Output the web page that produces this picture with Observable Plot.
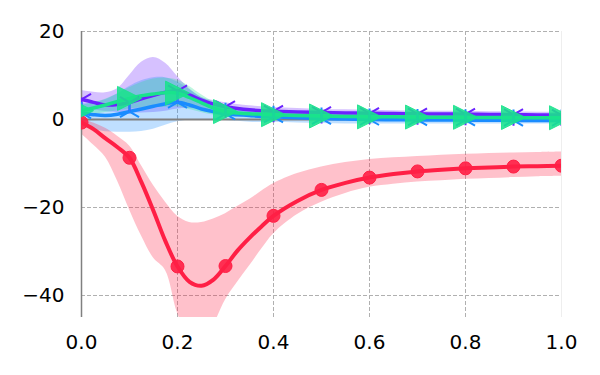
<!DOCTYPE html>
<html>
<head>
<meta charset="utf-8">
<script src="https://cdn.jsdelivr.net/npm/d3@7"></script>
<script src="https://cdn.jsdelivr.net/npm/@observablehq/plot@0.6"></script>
<style>
  html, body { margin: 0; padding: 0; background: #fff; }
  #chart { width: 600px; height: 375px; }
</style>
</head>
<body>
<div id="chart"></div>
<script>
// ---- data ----
const xs = [0,0.025,0.05,0.075,0.1,0.125,0.15,0.175,0.2,0.225,0.25,0.275,0.3,0.325,0.35,0.375,0.4,0.45,0.5,0.55,0.6,0.65,0.7,0.75,0.8,0.85,0.9,0.95,1.0];

const redMean = [-0.7,-2.2,-4.3,-6.3,-8.7,-14.3,-20.8,-27.7,-33.4,-36.9,-37.8,-36.4,-33.3,-29.8,-26.9,-24.3,-21.9,-18.5,-16.0,-14.4,-13.2,-12.4,-11.8,-11.4,-11.1,-10.9,-10.7,-10.6,-10.5];
const redHi   = [0.0,-0.8,-2.0,-3.8,-6.0,-10.5,-15.0,-18.8,-22.0,-23.4,-23.4,-22.6,-21.4,-19.8,-18.2,-16.3,-14.6,-12.3,-10.8,-9.8,-9.1,-8.7,-8.4,-8.1,-7.9,-7.7,-7.6,-7.5,-7.4];
const redLo   = [-3.3,-5.8,-8.6,-14.0,-20.5,-26.5,-31.5,-34.3,-44.0,-50,-53,-47,-41.0,-37.0,-33.3,-29.5,-26.0,-21.6,-18.8,-16.8,-15.4,-14.7,-14.2,-13.9,-13.6,-13.4,-13.2,-13.0,-12.9];

const purMean = [4.6,3.9,3.3,3.4,3.9,4.7,5.5,6.2,6.5,5.6,4.4,3.5,2.9,2.5,2.2,2.0,1.9,1.7,1.6,1.5,1.4,1.35,1.3,1.25,1.2,1.15,1.1,1.05,1.0];
const purHi   = [6.6,6.2,6.1,7.0,10.0,13.0,14.1,12.8,9.8,7.0,5.0,4.3,3.8,3.4,3.1,2.9,2.7,2.5,2.3,2.2,2.1,2.0,1.9,1.85,1.8,1.75,1.7,1.65,1.6];
const purLo   = [2.8,2.2,1.8,1.6,1.5,1.5,1.6,1.9,2.4,2.5,2.3,2.0,1.7,1.5,1.3,1.2,1.1,1.0,0.95,0.9,0.85,0.8,0.8,0.75,0.75,0.7,0.7,0.65,0.6];

const bluMean = [1.5,1.1,0.9,1.2,1.8,2.4,3.0,3.6,3.9,3.3,2.4,1.8,1.3,1.1,0.9,0.7,0.6,0.4,0.2,0.1,0.0,-0.05,-0.1,-0.1,-0.15,-0.15,-0.2,-0.2,-0.2];
const bluHi   = [3.5,3.8,4.5,5.8,7.5,8.8,9.5,9.5,8.5,6.8,5.0,3.8,2.8,2.2,1.8,1.6,1.5,1.2,1.0,0.9,0.8,0.7,0.7,0.6,0.6,0.55,0.5,0.5,0.5];
const bluLo   = [-1.7,-2.3,-2.8,-2.9,-2.9,-2.7,-2.2,-1.3,-0.5,-0.1,0.0,-0.1,-0.2,-0.4,-0.6,-0.7,-0.7,-0.8,-0.9,-1.0,-1.0,-1.0,-1.0,-1.0,-1.0,-1.0,-1.0,-1.0,-1.0];

const grnMean = [2.0,2.6,3.3,4.1,4.8,5.4,5.8,6.1,6.0,5.0,3.8,2.6,1.8,1.5,1.3,1.2,1.1,0.9,0.8,0.7,0.6,0.6,0.55,0.5,0.5,0.45,0.45,0.4,0.4];
const grnHi   = [3.2,3.8,4.6,5.8,7.2,8.4,9.2,9.4,9.0,7.5,5.6,4.0,2.9,2.4,2.1,1.9,1.8,1.5,1.3,1.2,1.1,1.05,1.0,0.95,0.9,0.9,0.85,0.85,0.8];
const grnLo   = [0.8,1.2,1.6,2.0,2.4,2.6,2.7,2.8,2.9,2.3,1.6,1.0,0.6,0.5,0.4,0.3,0.3,0.2,0.1,0.1,0.0,0.0,0.0,0.0,0.0,0.0,0.0,0.0,0.0];

const markerXs = [0,0.1,0.2,0.3,0.4,0.5,0.6,0.7,0.8,0.9,1.0];
const xTicks = [0,0.2,0.4,0.6,0.8,1.0];
const yTicks = [-40,-20,0,20];
const yGrid = [-40,-20,20];
const xGrid = [0.2,0.4,0.6,0.8];

// ---- build tables ----
const series = [
  {name: "purple", mean: purMean, hi: purHi, lo: purLo, color: "#6b22ff", band: "#6b22ff"},
  {name: "blue",   mean: bluMean, hi: bluHi, lo: bluLo, color: "#1a8cff", band: "#1a8cff"},
  {name: "green",  mean: grnMean, hi: grnHi, lo: grnLo, color: "#19e38c", band: "#19e38c"},
  {name: "red",    mean: redMean, hi: redHi, lo: redLo, color: "#ff1f45", band: "#ff1f45"}
];
const rows = s => xs.map((x, i) => ({x, y: s.mean[i], hi: s.hi[i], lo: s.lo[i]}));
const marks = s => rows(s).filter(d => markerXs.some(m => Math.abs(m - d.x) < 1e-9));

// ---- custom marker symbols ----
const triRight = {draw(ctx, size) { const r = Math.sqrt(size / Math.PI);
  ctx.moveTo(r, 0); ctx.lineTo(-r, -r); ctx.lineTo(-r, r); ctx.closePath(); }};
const triDown = {draw(ctx, size) { const r = Math.sqrt(size / Math.PI);
  ctx.moveTo(0, 0); ctx.lineTo(0, r);
  ctx.moveTo(0, 0); ctx.lineTo(-0.866 * r, -0.5 * r);
  ctx.moveTo(0, 0); ctx.lineTo(0.866 * r, -0.5 * r); }};
const triUp = {draw(ctx, size) { const r = Math.sqrt(size / Math.PI);
  ctx.moveTo(0, 0); ctx.lineTo(0, -r);
  ctx.moveTo(0, 0); ctx.lineTo(-0.866 * r, 0.5 * r);
  ctx.moveTo(0, 0); ctx.lineTo(0.866 * r, 0.5 * r); }};

const fmtY = d => (d < 0 ? "\u2212" : "") + Math.abs(d);

const [P, B, G, R] = series;

const chart = Plot.plot({
  width: 600,
  height: 375,
  marginLeft: 81,
  marginRight: 39,
  marginTop: 31,
  marginBottom: 58,
  style: {fontFamily: "DejaVu Sans", fontSize: "20px", color: "#000", background: "#fff"},
  x: {domain: [0, 1], ticks: xTicks, tickFormat: d => d.toFixed(1), tickSize: 0, tickPadding: 17, label: null},
  y: {domain: [-45, 20], ticks: yTicks, tickFormat: fmtY, tickSize: 0, tickPadding: 17, label: null},
  marks: [
    // grid
    Plot.ruleY(yGrid, {stroke: "#b0b0b0", strokeWidth: 1, strokeDasharray: "4,2"}),
    Plot.ruleX(xGrid, {stroke: "#b0b0b0", strokeWidth: 1, strokeDasharray: "4,2"}),
    Plot.ruleX([1], {stroke: "#eeeeee", strokeWidth: 1}),
    // bands
    ...series.map(s => Plot.areaY(rows(s), {x: "x", y1: "lo", y2: "hi", fill: s.band, fillOpacity: 0.28, curve: "catmull-rom", clip: true})),
    // zero line and left spine
    Plot.ruleY([0], {stroke: "#808080", strokeWidth: 2}),
    Plot.ruleX([0], {stroke: "#808080", strokeWidth: 1.5}),
    // lines
    Plot.line(rows(R), {x: "x", y: "y", stroke: R.color, strokeWidth: 4, curve: "catmull-rom", clip: true}),
    Plot.line(rows(P), {x: "x", y: "y", stroke: P.color, strokeWidth: 3.5, curve: "catmull-rom", clip: true}),
    Plot.line(rows(B), {x: "x", y: "y", stroke: B.color, strokeWidth: 3.5, curve: "catmull-rom", clip: true}),
    Plot.line(rows(G), {x: "x", y: "y", stroke: G.color, strokeWidth: 3.5, curve: "catmull-rom", clip: true}),
    // markers
    Plot.dot(marks(R), {x: "x", y: "y", r: 6.5, fill: R.color, fillOpacity: 0.9, stroke: R.color, strokeWidth: 1, clip: true}),
    Plot.dot(marks(P), {x: "x", y: "y", r: 11, symbol: triDown, fill: "none", stroke: P.color, strokeWidth: 2, clip: true}),
    Plot.dot(marks(B), {x: "x", y: "y", r: 11, symbol: triUp, fill: "none", stroke: B.color, strokeWidth: 2, clip: true}),
    Plot.dot(marks(G), {x: "x", y: "y", r: 12, symbol: triRight, fill: G.color, fillOpacity: 0.88, stroke: G.color, strokeOpacity: 0.88, strokeWidth: 1, clip: true})
  ]
});
document.getElementById("chart").appendChild(chart);
</script>
</body>
</html>
